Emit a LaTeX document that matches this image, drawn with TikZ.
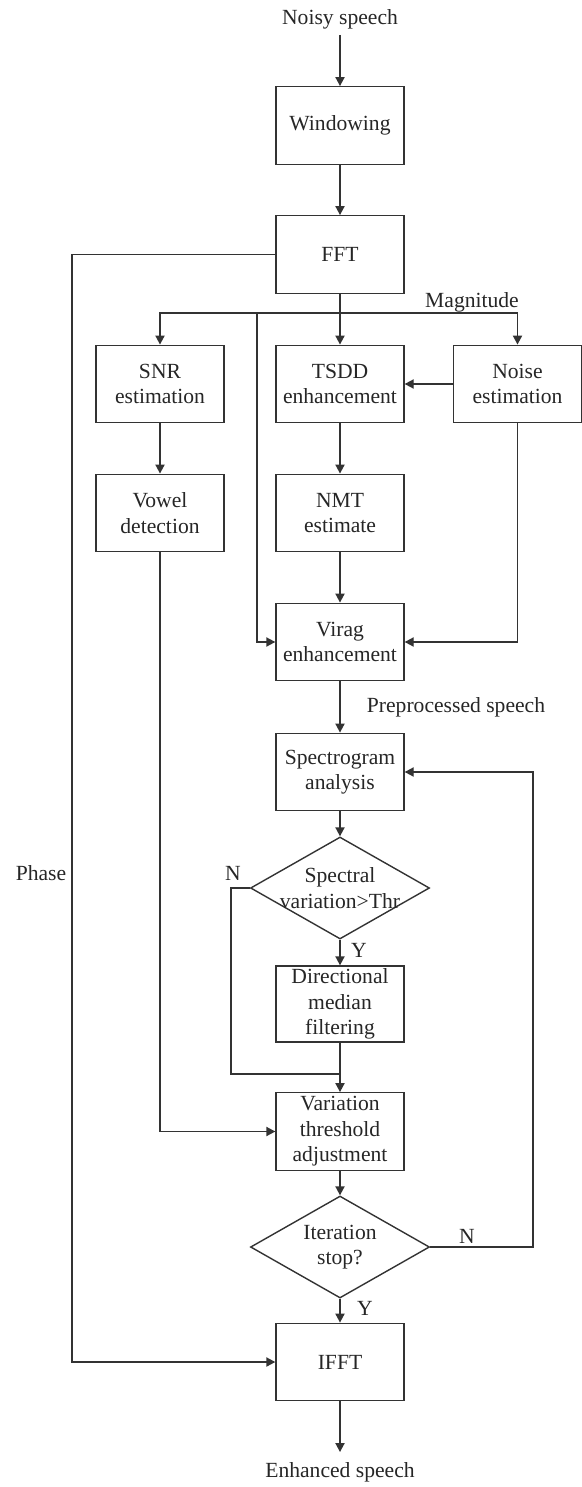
\documentclass[tikz,border=0pt]{standalone}
\usepackage{fontspec}
\setmainfont{Liberation Serif}
\usetikzlibrary{shapes.geometric,arrows.meta}
\begin{document}
\begin{tikzpicture}[x=0.5pt,y=-0.5pt,
  every node/.style={font=\fontsize{10.8}{12.8}\selectfont, text=black!85},
  boxnode/.style={draw=black!80, line width=0.7pt, minimum width=64pt, minimum height=38.75pt, inner sep=0pt, align=center},
  decision/.style={draw=black!80, line width=0.7pt, diamond, minimum width=89.5pt, minimum height=51pt, inner sep=0pt},
  lbl/.style={inner sep=0pt, align=center},
  conn/.style={draw=black!80, line width=0.7pt},
  arr/.style={conn, -{Triangle[length=4.5pt,width=4.6pt]}}]
\useasboundingbox (0,0) rectangle (582,1487);
% nodes
\node[lbl] (noisy) at (340,19) {Noisy speech};
\node[boxnode] (win) at (340,125.5) {Windowing};
\node[boxnode] (fft) at (340,254.5) {FFT};
\node[boxnode] (snr) at (160,384) {SNR\\estimation};
\node[boxnode] (tsdd) at (340,384) {TSDD\\enhancement};
\node[boxnode] (noise) at (517.5,384) {Noise\\estimation};
\node[boxnode] (vowel) at (160,513) {Vowel\\detection};
\node[boxnode] (nmt) at (340,513) {NMT\\estimate};
\node[boxnode] (virag) at (340,642) {Virag\\enhancement};
\node[boxnode] (spec) at (340,772) {Spectrogram\\analysis};
\node[decision, label={[lbl]center:Spectral\\variation>Thr}] (d1) at (340,888) {};
\node[boxnode, minimum height=38pt] (dir) at (340,1004) {Directional\\median\\filtering};
\node[boxnode] (var) at (340,1131.5) {Variation\\threshold\\adjustment};
\node[decision, label={[lbl]center:Iteration\\stop?}] (d2) at (340,1247) {};
\node[boxnode] (ifft) at (340,1362) {IFFT};
\node[lbl] (enh) at (340,1472) {Enhanced speech};
% labels
\node[lbl] (maglbl) at (472,302) {Magnitude};
\node[lbl] (phaselbl) at (41,873) {Phase};
\node[lbl] (prelbl) at (456,707) {Preprocessed speech};
\node[lbl] (n1) at (233,873) {N};
\node[lbl] (y1) at (359,950) {Y};
\node[lbl] (n2) at (467,1236) {N};
\node[lbl] (y2) at (365,1308) {Y};
% coordinates
\coordinate (instart) at (340,35);
\coordinate (bus) at (340,313);
\coordinate (tap) at (257,313);
\coordinate (phx) at (72,254.5);
\coordinate (nx) at (231,888);
\coordinate (nj) at (340,1074);
\coordinate (fbx) at (533,1247);
\coordinate (outend) at (340,1452);
% connectors
\draw[arr] (instart) -- (win.north);
\draw[arr] (win) -- (fft);
\draw[conn] (fft.south) -- (bus);
\draw[arr] (bus) -- (tsdd.north);
\draw[arr] (bus) -| (snr.north);
\draw[arr] (bus) -| (noise.north);
\draw[arr] (tap) |- (virag.west);
\draw[arr] (fft.west) -- (phx) |- (ifft.west);
\draw[arr] (noise) -- (tsdd);
\draw[arr] (snr) -- (vowel);
\draw[arr] (tsdd) -- (nmt);
\draw[arr] (nmt) -- (virag);
\draw[arr] (noise.south) |- (virag.east);
\draw[arr] (virag) -- (spec);
\draw[arr] (spec) -- (d1);
\draw[arr] (d1) -- (dir);
\draw[conn] (d1.west) -- (nx) |- (nj);
\draw[arr] (dir) -- (var);
\draw[arr] (vowel.south) |- (var.west);
\draw[arr] (var) -- (d2);
\draw[arr] (d2.east) -- (fbx) |- (spec.east);
\draw[arr] (d2) -- (ifft);
\draw[arr] (ifft) -- (outend);
\end{tikzpicture}
\end{document}
